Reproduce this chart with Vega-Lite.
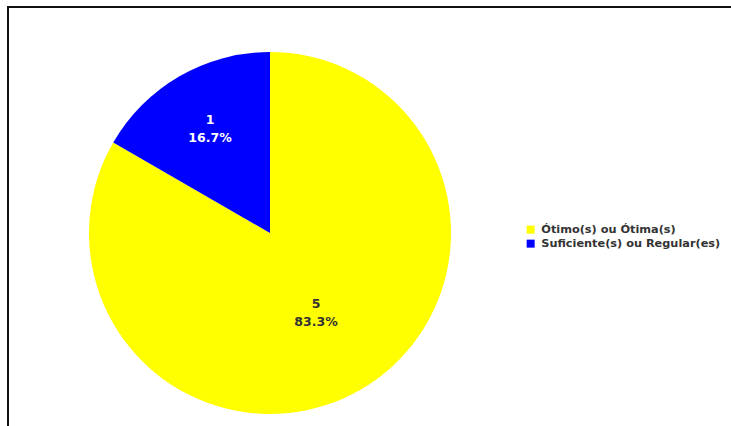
{
  "$schema": "https://vega.github.io/schema/vega-lite/v6.json",
  "width": 740,
  "height": 452,
  "autosize": {"type": "none"},
  "padding": {"left": 8, "top": 7, "right": 0, "bottom": 0},
  "background": "#ffffff",
  "config": {
    "view": {"stroke": "#111111", "strokeWidth": 2},
    "font": "DejaVu Sans"
  },
  "data": {
    "values": [
      {"categoria": "Ótimo(s) ou Ótima(s)", "n": 5, "pct": "83.3%", "ordem": 1},
      {"categoria": "Suficiente(s) ou Regular(es)", "n": 1, "pct": "16.7%", "ordem": 2}
    ]
  },
  "transform": [
    {"stack": "n", "groupby": [], "sort": [{"field": "ordem", "order": "ascending"}], "as": ["t0", "t1"]},
    {"calculate": "(datum.t0 + datum.t1) / 2", "as": "meio"},
    {"calculate": "[datum.n + '', datum.pct]", "as": "rotulo"}
  ],
  "encoding": {
    "x": {"datum": 262, "type": "quantitative", "scale": {"domain": [0, 740]}, "axis": null}
  },
  "layer": [
    {
      "mark": {"type": "arc", "outerRadius": 181},
      "encoding": {
        "theta": {"field": "t0", "type": "quantitative", "stack": null, "scale": {"domain": [0, 6]}},
        "theta2": {"field": "t1"},
        "color": {
          "field": "categoria",
          "type": "nominal",
          "sort": ["Ótimo(s) ou Ótima(s)", "Suficiente(s) ou Regular(es)"],
          "scale": {"domain": ["Ótimo(s) ou Ótima(s)", "Suficiente(s) ou Regular(es)"], "range": ["#ffff00", "#0000ff"]},
          "legend": {
            "title": null,
            "orient": "none",
            "legendX": 517,
            "legendY": 217,
            "symbolType": "square",
            "symbolSize": 64,
            "symbolStrokeWidth": 0,
            "labelFont": "DejaVu Sans",
            "labelFontWeight": "bold",
            "labelFontSize": 11.3,
            "labelColor": "#333333",
            "labelLimit": 0,
            "rowPadding": 2,
            "labelOffset": 5
          }
        }
      }
    },
    {
      "transform": [{"filter": "datum.ordem == 2"}],
      "mark": {"type": "text", "radius": 120, "dy": -9, "fontWeight": "bold", "fontSize": 12.5, "color": "#ffffff", "align": "center", "baseline": "middle", "lineHeight": 18},
      "encoding": {
        "theta": {"field": "meio", "type": "quantitative", "stack": null},
        "text": {"field": "rotulo"}
      }
    },
    {
      "transform": [{"filter": "datum.ordem == 1"}],
      "mark": {"type": "text", "radius": 92, "dy": -9, "fontWeight": "bold", "fontSize": 12.5, "color": "#333333", "align": "center", "baseline": "middle", "lineHeight": 18},
      "encoding": {
        "theta": {"field": "meio", "type": "quantitative", "stack": null},
        "text": {"field": "rotulo"}
      }
    }
  ]
}
